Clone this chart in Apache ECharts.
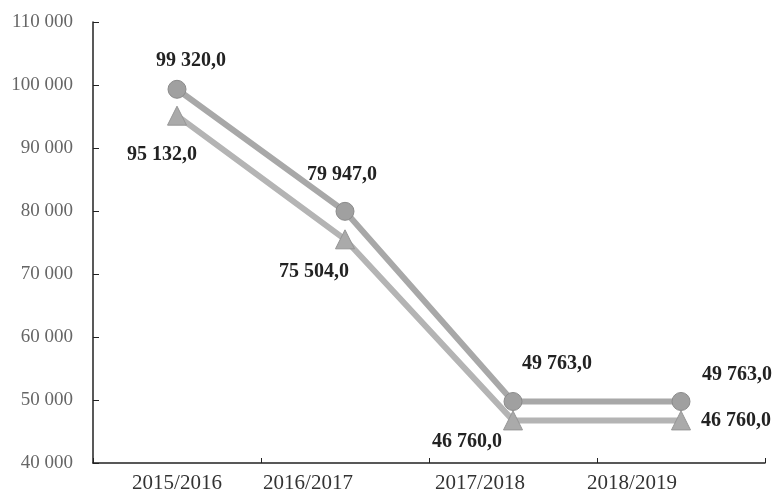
<!DOCTYPE html>
<html>
<head>
<meta charset="utf-8">
<script src="https://cdn.jsdelivr.net/npm/echarts@6/dist/echarts.min.js"></script>
<style>
  html, body { margin: 0; padding: 0; background: #fff; }
  #chart { width: 777px; height: 495px; }
</style>
</head>
<body>
<div id="chart"></div>
<script>
var years = ['2015/2016', '2016/2017', '2017/2018', '2018/2019']
var circleVals = [99320, 79947, 49763, 49763]
var triangleVals = [95132, 75504, 46760, 46760]

// label offsets from the point
var circleOffsets = [[14, -28], [-3, -37], [44, -38], [56, -27]]
var triangleOffsets = [[-15, 39], [-31, 33], [-46, 21], [55, 0]]
// year labels in the scan sit left of their ticks
var yearShift = [0, 37, 33, 49]

function fmt(v, dec) {
  var s = Math.round(v).toString().replace(/\B(?=(\d{3})+(?!\d))/g, ' ')
  return dec ? s + ',0' : s
}

function makeData(vals, offsets) {
  return vals.map(function(v, i) {
    return {
      value: v,
      label: { show: true, position: 'inside', offset: offsets[i] }
    }
  })
}

var chart = echarts.init(document.getElementById('chart'))
var serif = '"Liberation Serif", "DejaVu Serif", serif'

chart.setOption({
  animation: false,
  grid: { left: 93, right: 12, top: 22, bottom: 32 },
  xAxis: {
    type: 'category',
    data: years.map(function(y, i) {
      return { value: y, textStyle: { padding: [0, yearShift[i] * 2, 0, 0] } }
    }),
    boundaryGap: true,
    axisLine: { lineStyle: { color: '#222', width: 1.5 } },
    axisTick: { show: true, inside: true, length: 5, lineStyle: { color: '#222' } },
    axisLabel: { fontFamily: serif, fontSize: 21, color: '#333', margin: 10 }
  },
  yAxis: {
    type: 'value',
    min: 40000,
    max: 110000,
    interval: 10000,
    axisLine: { show: true, lineStyle: { color: '#222', width: 1.5 } },
    axisTick: { show: true, inside: true, length: 6, lineStyle: { color: '#222' } },
    splitLine: { show: false },
    axisLabel: {
      fontFamily: serif, fontSize: 19, color: '#666', margin: 20,
      formatter: function(v) { return fmt(v, false) }
    }
  },
  series: [{
    name: 'circle',
    type: 'line',
    data: makeData(circleVals, circleOffsets),
    symbol: 'circle',
    symbolSize: 18,
    lineStyle: { color: '#a8a8a8', width: 6 },
    itemStyle: { color: '#a0a0a0', borderColor: '#8a8a8a', borderWidth: 1 },
    label: {
      fontFamily: serif, fontSize: 20, fontWeight: 'bold', color: '#222',
      formatter: function(p) { return fmt(p.value, true) }
    }
  }, {
    name: 'triangle',
    type: 'line',
    data: makeData(triangleVals, triangleOffsets),
    symbol: 'triangle',
    symbolSize: 19,
    lineStyle: { color: '#b4b4b4', width: 6 },
    itemStyle: { color: '#aaaaaa', borderColor: '#959595', borderWidth: 1 },
    label: {
      fontFamily: serif, fontSize: 20, fontWeight: 'bold', color: '#222',
      formatter: function(p) { return fmt(p.value, true) }
    }
  }]
})
</script>
</body>
</html>
